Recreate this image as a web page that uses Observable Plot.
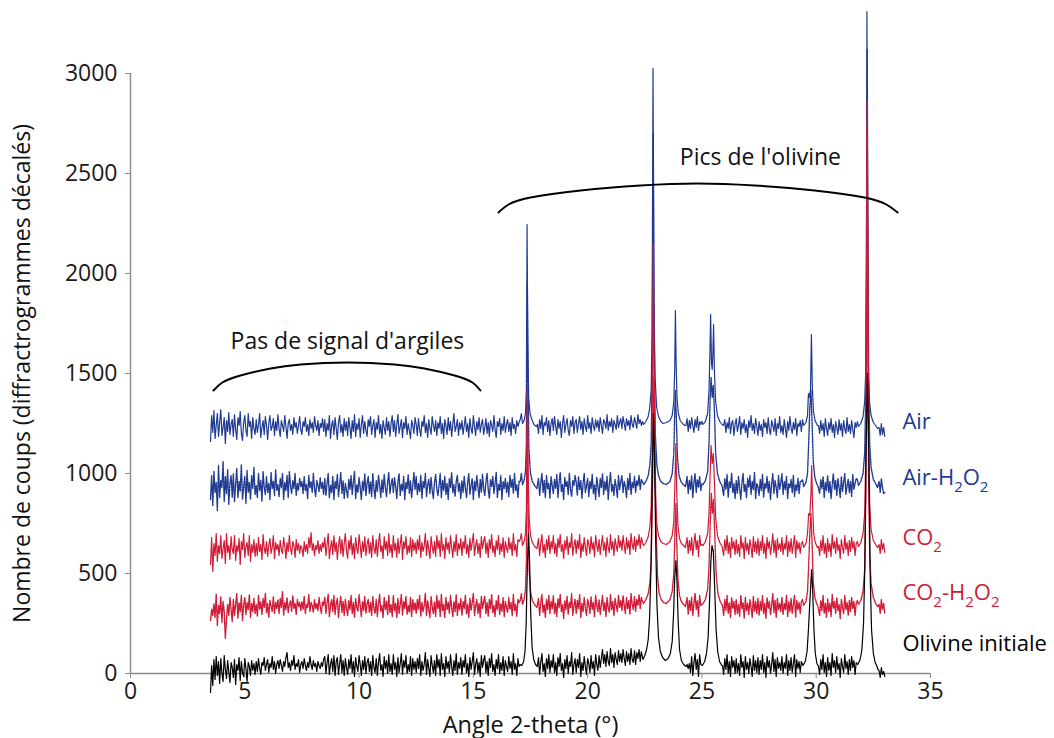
<!DOCTYPE html>
<html><head><meta charset="utf-8">
<script src="https://cdn.jsdelivr.net/npm/d3@7"></script>
<script src="https://cdn.jsdelivr.net/npm/@observablehq/plot@0.6"></script>
<style>
body{margin:0;background:#fff;}
#chart svg{display:block;}
g[aria-label="y-axis tick label"], g[aria-label="x-axis tick label"]{fill:#1a1a1a;}
</style></head><body><div id="chart"></div>
<script>
// ---- noisy scans: value at x = 3.5 + 0.05*i (one row = 1 degree) ----
const gridStart = 3.5, gridStep = 0.05;
const xTicks = [0,5,10,15,20,25,30,35];
const yTicks = [0,500,1000,1500,2000,2500,3000];
const seriesNames = ["Air","Air-H_2O_2","CO_2","CO_2-H_2O_2","Olivine initiale"];
const seriesColors = ["#203a92","#203a92","#d11a36","#d11a36","#000000"];
const seriesDashed = [false,true,false,true,false];
const labelY = [1260,980,680,405,150];

const airScan = [
1160,1290,1205,1315,1175,1240,1300,1185,1255,1320,1190,1230,1280,1150,1265,1210,1305,1195,1245,1270,
1185,1295,1220,1170,1280,1240,1310,1200,1165,1255,1290,1215,1185,1300,1235,1260,1175,1280,1225,1195,
1270,1205,1245,1300,1180,1230,1265,1195,1285,1240,1170,1250,1290,1215,1235,1275,1190,1260,1215,1295,
1225,1185,1265,1240,1210,1290,1235,1175,1250,1270,1215,1245,1195,1280,1230,1255,1200,1240,1285,1220,
1195,1260,1235,1280,1210,1245,1190,1270,1225,1255,1205,1285,1240,1215,1265,1190,1250,1230,1275,1210,
1270,1185,1250,1215,1290,1175,1240,1265,1195,1280,1225,1170,1255,1290,1205,1245,1185,1275,1215,1260,
1190,1280,1230,1175,1265,1210,1295,1185,1250,1220,1275,1180,1245,1290,1200,1260,1215,1185,1270,1235,
1285,1195,1240,1270,1180,1255,1220,1290,1200,1245,1175,1265,1230,1195,1280,1215,1260,1185,1250,1290,
1210,1265,1185,1245,1295,1200,1235,1270,1180,1255,1225,1285,1195,1250,1215,1175,1265,1240,1200,1280,
1245,1190,1275,1220,1185,1260,1235,1290,1205,1250,1180,1270,1225,1195,1285,1240,1210,1265,1190,1255,
1225,1285,1200,1250,1175,1270,1240,1195,1280,1215,1260,1185,1245,1300,1210,1235,1270,1190,1255,1220,
1265,1195,1240,1285,1210,1250,1180,1275,1225,1200,1290,1235,1190,1260,1220,1280,1205,1245,1270,1195,
1230,1275,1200,1255,1185,1265,1240,1210,1290,1220,1180,1260,1235,1275,1195,1250,1215,1285,1205,1245,
1270,1210,1255,1190,1280,1225,1245,1200,1265,1235,1255,1270,1300,1400,1600,2000,2200,1800,1500,1350,
1300,1280,1260,1250,1240,1235,1245,1200,1270,1225,1290,1195,1255,1240,1280,1210,1265,1190,1250,1275,
1215,1285,1235,1195,1270,1225,1260,1180,1250,1290,1205,1245,1275,1215,1190,1265,1235,1285,1200,1255,
1270,1205,1250,1285,1220,1260,1195,1275,1235,1210,1290,1225,1255,1200,1280,1240,1215,1270,1230,1265,
1210,1280,1240,1200,1270,1255,1225,1295,1215,1260,1235,1275,1205,1265,1245,1220,1290,1230,1255,1275,
1225,1285,1250,1215,1275,1240,1265,1220,1290,1245,1230,1280,1255,1225,1295,1250,1270,1240,1260,1270,
1280,1290,1300,1320,1350,1400,1500,1700,2500,1900,1500,1400,1330,1300,1280,1270,1260,1255,1250,1250,
1255,1260,1265,1275,1290,1320,1400,1600,1800,1500,1350,1300,1280,1265,1250,1245,1240,1275,1210,1265,
1225,1280,1240,1205,1270,1230,1285,1215,1260,1245,1260,1270,1290,1320,1400,1600,1780,1600,1550,1700,
1600,1450,1350,1300,1280,1265,1255,1250,1245,1240,1270,1205,1255,1225,1280,1200,1250,1265,1190,1245,
1275,1210,1240,1285,1195,1255,1225,1270,1205,1245,1180,1265,1230,1290,1215,1250,1200,1275,1235,1190,
1260,1215,1245,1185,1270,1230,1255,1200,1280,1220,1195,1265,1240,1210,1275,1190,1250,1225,1285,1205,
1240,1195,1270,1225,1180,1260,1215,1285,1230,1200,1255,1220,1275,1190,1250,1235,1265,1210,1270,1280,
1290,1300,1350,1380,1400,1500,1690,1450,1350,1300,1270,1255,1240,1200,1265,1215,1250,1185,1275,1225,
1190,1255,1220,1275,1205,1245,1180,1260,1230,1195,1270,1215,1250,1185,1265,1225,1200,1280,1210,1245,
1200,1265,1220,1180,1255,1230,1260,1270,1290,1320,1360,1400,1500,1800,2500,1600,1400,1320,1290,1270,
1255,1250,1245,1240,1235,1230,1190,1250,1195,1230,1185];

const airH2O2Scan = [
870,990,840,1010,905,955,815,1040,880,965,930,1060,860,985,900,1020,845,950,990,880,
1000,860,945,1025,880,960,910,1045,870,935,985,850,1015,905,955,870,990,925,1030,895,
940,880,1000,915,965,860,1010,930,895,985,905,950,870,1005,925,960,890,1020,915,945,
885,975,930,1000,870,955,915,990,880,1010,940,900,965,925,1000,890,950,915,975,935,
960,900,985,915,945,875,990,930,960,905,1000,925,885,965,940,910,980,925,955,895,
975,890,950,1000,880,940,905,985,870,960,925,995,885,945,1005,900,965,875,950,915,
880,970,920,990,895,955,1010,875,945,905,980,930,870,960,915,1000,890,950,985,900,
960,885,1000,925,875,965,910,990,940,880,970,905,995,930,885,955,1005,900,945,975,
905,980,935,875,960,1000,890,945,915,985,870,955,925,995,900,965,880,940,1005,920,
985,895,950,910,990,875,960,930,1000,885,945,970,900,980,915,875,955,995,925,890,
940,1000,880,965,915,985,895,950,870,975,930,1005,905,945,885,960,990,910,950,875,
965,905,985,925,880,955,1000,895,940,975,870,960,915,990,935,880,970,905,995,925,
890,960,1000,920,875,970,935,985,900,950,1005,880,945,915,990,870,960,925,975,905,
955,885,990,930,970,900,1000,915,945,880,960,960,1000,1100,1300,1700,1800,1400,1150,1050,
1000,980,960,950,940,935,930,975,890,955,1000,905,965,880,990,925,950,875,985,940,
900,970,925,995,880,955,1005,910,945,870,980,935,960,895,1000,920,885,965,940,990,
955,890,985,920,965,875,950,1000,905,940,975,885,960,925,995,900,945,870,980,935,
885,975,930,1000,895,960,915,985,870,950,1005,910,945,890,970,935,880,990,920,960,
990,905,960,935,880,975,920,1000,895,955,930,985,905,965,940,990,920,970,960,970,
980,990,1010,1040,1080,1150,1300,1600,2400,1700,1300,1150,1050,1010,990,975,960,955,950,945,
950,960,970,990,1020,1080,1200,1350,1400,1300,1100,1020,990,970,955,945,940,985,900,965,
920,990,880,955,1000,905,970,930,985,915,950,965,990,1050,1200,1400,1450,1400,1420,1350,
1300,1150,1050,1000,980,965,955,945,940,890,975,920,995,880,960,930,1000,905,950,875,
965,900,985,925,870,955,1000,910,945,880,975,930,990,895,960,920,1005,875,950,935,
890,970,915,995,880,950,925,985,905,960,870,945,1000,900,965,930,880,990,920,955,
1000,895,960,920,985,875,950,930,970,905,990,885,945,915,975,900,960,960,970,980,
1000,1050,1150,1300,1400,1350,1200,1100,1040,990,965,950,940,900,970,925,985,880,955,915,
990,905,960,875,945,1000,920,965,890,975,930,880,985,910,955,1000,895,940,970,905,
960,885,995,920,950,975,970,985,1010,1050,1100,1200,1500,2200,2800,2000,1400,1150,1050,1000,
980,965,955,950,945,960,905,975,930,900,905];

const co2Scan = [
545,680,510,650,590,700,560,640,600,690,575,625,665,550,700,605,640,570,685,620,
600,690,565,640,610,675,545,660,620,700,580,635,655,590,690,560,645,605,670,585,
650,590,680,610,645,570,695,625,600,660,585,640,675,600,630,690,575,655,620,645,
590,665,620,600,680,635,575,655,610,690,625,595,660,640,580,670,615,650,600,640,
625,585,660,610,645,600,680,630,705,615,650,590,640,620,665,600,645,610,655,630,
680,590,645,700,575,630,665,595,690,610,655,570,640,685,600,670,585,650,700,615,
575,665,620,690,595,650,575,680,625,600,695,640,580,660,610,685,590,645,675,600,
655,580,690,625,600,670,585,650,700,610,640,575,685,620,660,590,700,605,645,580,
690,615,650,580,675,600,645,695,570,660,625,685,595,640,605,680,585,670,615,655,
600,670,620,690,580,655,610,640,700,590,665,620,575,685,635,600,660,585,690,625,
665,585,700,615,645,575,680,620,655,600,690,630,580,660,610,695,590,650,620,675,
590,660,625,690,600,645,580,675,615,655,700,590,640,670,600,650,580,685,625,660,
685,600,655,580,670,625,695,605,640,585,665,620,690,595,650,610,680,580,660,630,
605,680,620,655,590,700,615,645,585,670,660,670,700,750,850,1100,1400,1000,800,700,
680,660,650,640,630,625,620,675,590,655,695,605,645,580,670,620,690,600,660,625,
690,600,650,585,675,630,695,610,645,575,665,620,685,595,655,630,700,590,640,670,
600,665,625,695,580,650,610,680,630,590,670,645,600,685,620,655,585,690,640,610,
670,595,645,690,615,655,585,680,630,605,695,620,660,590,675,640,610,690,630,665,
615,690,640,600,680,625,665,595,700,645,620,685,610,670,640,695,625,680,655,665,
680,700,720,750,800,900,1100,1500,2100,1400,950,800,730,700,680,665,660,655,650,650,
655,660,670,690,720,780,900,1050,1150,950,780,700,670,655,645,640,635,680,600,665,
615,680,590,650,700,620,665,585,690,640,645,665,700,780,900,1050,1130,1080,1090,1000,
900,780,710,680,660,650,640,635,630,590,670,615,690,600,655,580,680,625,660,595,
670,600,645,585,690,625,655,575,680,615,650,595,670,630,580,685,610,660,600,675,
590,660,615,690,600,650,575,680,625,660,595,640,700,605,665,580,675,620,650,610,
680,595,650,620,690,585,660,610,675,600,645,690,580,665,620,655,600,650,660,670,
690,720,780,800,790,900,1030,850,720,680,660,645,635,590,665,615,690,600,650,580,
675,610,650,585,695,625,660,600,680,615,645,575,670,630,600,690,620,655,590,665,
610,680,625,660,590,650,660,680,710,760,850,1100,1600,2400,2700,1900,1200,850,720,680,
665,650,645,640,635,645,600,670,620,650,605];

const co2H2O2Scan = [
265,320,290,350,280,395,240,340,300,385,255,360,310,175,270,345,290,380,320,260,
370,290,345,400,275,355,310,390,265,340,380,295,355,320,395,280,350,310,375,300,
345,285,390,320,360,295,375,330,400,305,350,280,365,335,310,385,300,355,325,370,
300,375,330,410,290,355,320,380,305,345,365,310,390,325,350,295,370,335,355,315,
360,320,385,300,345,330,395,310,355,340,305,370,325,350,315,380,335,300,360,340,
380,300,355,395,285,340,370,310,390,295,350,375,280,345,385,305,360,290,370,325,
290,365,320,390,300,355,280,375,330,310,395,340,285,360,315,385,300,350,370,305,
355,290,385,325,300,370,285,350,395,310,340,280,380,320,360,295,390,305,345,285,
390,315,350,280,375,300,345,395,290,360,325,385,295,340,305,380,285,370,315,355,
300,370,320,390,285,355,310,340,400,290,365,320,280,385,335,300,360,285,390,325,
365,285,395,315,345,280,380,320,355,300,390,330,285,360,310,395,290,350,320,375,
290,360,325,390,300,345,280,375,315,355,400,290,340,370,300,350,280,385,325,360,
385,300,355,285,370,325,395,305,340,285,365,320,390,295,350,310,380,285,360,330,
305,380,320,355,290,395,315,345,285,370,355,365,400,480,650,950,1150,750,500,420,
390,370,355,345,340,335,330,375,290,355,395,305,345,280,370,320,390,300,360,325,
390,300,350,285,375,330,395,310,345,275,365,320,385,295,355,330,400,290,340,370,
300,365,325,395,280,350,310,380,330,290,370,345,300,385,320,355,285,390,340,310,
370,295,345,390,315,355,285,380,330,305,395,320,360,290,375,340,310,390,330,365,
315,390,340,300,380,325,365,295,400,345,320,385,310,370,340,395,325,380,360,370,
380,395,410,440,500,600,800,1200,1450,1200,900,650,480,420,395,380,365,360,355,350,
355,365,380,400,440,520,650,800,850,700,500,420,390,370,355,345,340,380,295,365,
315,380,290,350,400,320,365,285,390,340,345,360,390,450,550,750,890,820,860,760,
650,500,430,395,375,360,350,345,340,290,370,315,390,300,355,280,380,325,360,295,
370,300,345,285,390,325,355,275,380,315,350,295,370,330,280,385,310,360,300,375,
290,360,315,390,300,350,275,380,325,360,295,340,400,305,365,280,375,320,350,310,
380,295,350,320,390,285,360,310,375,300,345,390,280,365,320,355,300,360,370,380,
400,430,480,560,680,790,700,520,420,380,360,345,340,290,365,315,390,300,350,280,
375,310,350,285,395,325,360,300,380,315,345,275,370,330,300,390,320,355,290,365,
310,380,325,360,290,350,365,380,410,460,560,800,1400,2400,2800,1800,1000,600,450,400,
380,360,350,345,340,345,300,370,320,350,300];

const olivineScan = [
-95,40,-60,70,-30,85,-10,60,-50,75,0,-40,90,20,-25,65,10,-45,55,30,
-20,70,-55,45,15,80,-35,60,5,-15,75,25,-40,55,35,-10,65,15,50,-5,
60,10,75,25,-5,55,40,80,15,45,70,5,50,30,85,20,60,0,45,65,
25,70,40,10,60,35,80,105,30,55,15,65,40,90,20,50,35,70,5,45,
60,25,75,40,15,55,30,85,45,20,65,35,50,10,60,40,25,55,35,70,
85,0,55,95,-5,45,75,10,90,-10,60,80,-5,50,95,5,65,-10,75,30,
-5,70,25,95,5,60,-15,80,35,10,90,45,-10,65,20,85,0,55,75,10,
60,-10,90,30,5,75,-10,55,100,15,45,-15,85,25,65,0,95,10,50,-5,
95,20,55,-15,80,5,50,100,-5,65,30,90,0,45,10,85,-10,75,20,60,
5,75,25,95,-10,60,15,45,105,-5,70,25,-15,90,40,5,65,-10,95,30,
70,-10,100,20,50,-15,85,25,60,5,95,35,-10,65,15,100,-5,55,25,80,
-5,65,30,95,5,50,-15,80,20,60,105,-5,45,75,5,55,-15,90,30,65,
90,5,60,-10,75,30,100,10,45,-10,70,25,95,0,55,15,85,-10,65,35,
10,85,25,60,-5,100,20,50,-10,75,35,45,60,100,250,500,680,600,350,150,
90,60,45,40,35,35,35,80,-5,60,100,10,50,-15,75,25,95,5,65,30,
95,5,55,-10,80,35,100,15,50,-20,70,25,90,0,60,35,105,-5,45,75,
5,70,30,100,-15,55,15,85,35,-5,75,50,5,90,25,60,-10,95,45,15,
90,30,75,120,50,95,35,110,60,40,125,55,95,30,105,70,45,115,60,100,
55,120,75,40,110,60,100,45,125,70,55,115,45,105,75,120,60,110,85,95,
90,110,130,170,250,500,900,1250,1200,700,350,180,110,85,70,65,70,65,70,75,
75,100,110,140,160,280,450,560,480,280,150,90,65,50,45,40,35,45,25,50,
5,85,-10,55,100,20,70,-15,95,45,40,60,100,180,350,560,640,600,420,220,
150,100,70,55,45,40,40,40,40,-5,75,20,95,0,60,-15,85,30,65,0,
75,5,50,-10,95,30,60,-20,85,20,55,0,75,35,-15,90,15,65,5,80,
-5,65,20,95,5,55,-20,85,30,65,0,45,105,10,70,-15,80,25,55,15,
85,0,55,25,95,-10,65,15,80,5,50,95,-15,70,25,60,5,60,40,60,
80,110,150,220,330,420,520,400,220,100,50,40,35,-5,70,20,95,5,55,-15,
80,15,55,-10,100,30,65,5,85,20,50,-20,75,35,5,95,25,60,-5,70,
15,85,30,65,-5,55,45,70,120,250,550,1100,1500,1100,500,220,100,55,35,30,
40,35,30,25,20,15,-20,30,-5,10,-15];

// ---- peak regions: [2-theta, counts] ----
const airPeaks = [
 [[17.15,1250],[17.22,1265],[17.28,1300],[17.32,1420],[17.35,2245],[17.38,1650],[17.42,1380],[17.48,1300],[17.56,1270],[17.65,1245],[17.75,1235]],
 [[22.45,1245],[22.55,1260],[22.65,1285],[22.72,1330],[22.78,1420],[22.82,1700],[22.86,3025],[22.9,1900],[22.95,1480],[23.02,1330],[23.1,1285],[23.2,1260],[23.3,1250],[23.45,1255],[23.6,1265],[23.7,1290],[23.77,1360],[23.81,1520],[23.84,1815],[23.87,1560],[23.91,1380],[23.97,1300],[24.05,1265],[24.15,1250],[24.25,1240]],
 [[25.05,1245],[25.15,1260],[25.25,1300],[25.31,1420],[25.35,1600],[25.38,1795],[25.42,1550],[25.45,1520],[25.48,1600],[25.51,1745],[25.55,1500],[25.6,1360],[25.68,1290],[25.78,1260],[25.88,1245]],
 [[29.45,1240],[29.55,1255],[29.62,1290],[29.66,1400],[29.7,1380],[29.75,1420],[29.79,1695],[29.83,1430],[29.88,1310],[29.95,1265],[30.05,1240]],
 [[31.85,1235],[31.95,1250],[32.05,1285],[32.12,1360],[32.17,1520],[32.2,2100],[32.22,3310],[32.25,2200],[32.28,1550],[32.33,1360],[32.4,1290],[32.5,1255],[32.6,1240],[32.68,1225]]
];
const airH2O2Peaks = [
 [[17.15,945],[17.22,965],[17.28,1010],[17.32,1150],[17.36,1950],[17.39,1500],[17.43,1120],[17.5,1000],[17.58,960],[17.68,940],[17.78,925]],
 [[22.45,945],[22.55,960],[22.65,990],[22.72,1040],[22.78,1150],[22.82,1500],[22.87,2700],[22.91,1700],[22.96,1200],[23.03,1040],[23.1,990],[23.2,960],[23.3,950],[23.45,945],[23.6,960],[23.7,1000],[23.77,1100],[23.81,1300],[23.84,1415],[23.88,1280],[23.93,1080],[24.0,990],[24.08,960],[24.18,945],[24.28,935]],
 [[25.05,945],[25.15,965],[25.25,1010],[25.31,1150],[25.36,1380],[25.4,1480],[25.45,1380],[25.5,1440],[25.55,1300],[25.6,1100],[25.68,1000],[25.78,960],[25.88,940]],
 [[29.45,935],[29.55,955],[29.62,1000],[29.67,1150],[29.72,1330],[29.77,1415],[29.82,1250],[29.87,1060],[29.94,980],[30.02,950],[30.08,935]],
 [[31.85,940],[31.95,960],[32.05,1000],[32.12,1100],[32.17,1400],[32.2,2200],[32.23,3120],[32.26,2300],[32.29,1500],[32.34,1150],[32.4,1030],[32.5,970],[32.6,950],[32.68,930]]
];
const co2Peaks = [
 [[17.15,640],[17.22,660],[17.28,700],[17.32,820],[17.36,1425],[17.4,1000],[17.44,780],[17.5,690],[17.58,655],[17.68,635],[17.78,625]],
 [[22.45,640],[22.55,655],[22.65,685],[22.72,730],[22.78,830],[22.82,1100],[22.87,2150],[22.91,1400],[22.96,900],[23.03,740],[23.1,690],[23.2,660],[23.3,650],[23.45,645],[23.6,660],[23.7,690],[23.77,760],[23.82,950],[23.86,1150],[23.9,900],[23.95,740],[24.02,675],[24.1,650],[24.2,640],[24.28,630]],
 [[25.05,640],[25.15,660],[25.25,700],[25.31,800],[25.36,1000],[25.4,1140],[25.45,1050],[25.5,1100],[25.55,950],[25.6,780],[25.68,690],[25.78,655],[25.88,635]],
 [[29.45,630],[29.55,650],[29.62,700],[29.67,800],[29.72,790],[29.77,900],[29.8,1040],[29.84,850],[29.89,700],[29.96,655],[30.05,630]],
 [[31.85,635],[31.95,655],[32.05,700],[32.12,800],[32.17,1100],[32.2,1800],[32.23,2755],[32.26,1900],[32.29,1200],[32.34,850],[32.4,720],[32.5,665],[32.6,645],[32.68,630]]
];
const co2H2O2Peaks = [
 [[17.15,345],[17.22,370],[17.28,420],[17.32,560],[17.36,1250],[17.4,800],[17.44,520],[17.5,410],[17.58,365],[17.68,345],[17.78,330]],
 [[22.45,350],[22.55,370],[22.65,400],[22.72,450],[22.78,560],[22.83,850],[22.9,1480],[22.95,1100],[23.0,700],[23.06,480],[23.13,400],[23.22,370],[23.32,355],[23.45,350],[23.6,370],[23.7,410],[23.77,500],[23.82,700],[23.86,850],[23.9,650],[23.95,470],[24.02,390],[24.1,360],[24.2,345],[24.28,335]],
 [[25.05,350],[25.15,370],[25.25,420],[25.31,530],[25.36,750],[25.41,900],[25.46,800],[25.51,870],[25.56,700],[25.62,500],[25.7,400],[25.8,360],[25.9,340]],
 [[29.45,340],[29.55,360],[29.62,410],[29.67,540],[29.72,700],[29.77,800],[29.82,650],[29.87,460],[29.94,380],[30.02,350],[30.08,335]],
 [[31.85,345],[31.95,365],[32.05,410],[32.12,520],[32.17,900],[32.2,1700],[32.23,2865],[32.26,1800],[32.29,1000],[32.34,600],[32.4,450],[32.5,380],[32.6,350],[32.68,335]]
];
const olivinePeaks = [
 [[17.12,40],[17.2,60],[17.26,110],[17.31,250],[17.36,520],[17.41,700],[17.46,560],[17.51,300],[17.57,130],[17.64,70],[17.72,45],[17.8,35]],
 [[22.42,70],[22.5,90],[22.58,120],[22.65,170],[22.71,280],[22.77,520],[22.83,1000],[22.88,1300],[22.93,1050],[22.98,650],[23.03,350],[23.1,180],[23.18,110],[23.28,80],[23.4,65],[23.52,75],[23.62,100],[23.7,160],[23.76,300],[23.81,480],[23.86,565],[23.91,460],[23.96,260],[24.02,120],[24.1,65],[24.2,45],[24.3,35]],
 [[25.02,40],[25.12,60],[25.2,100],[25.27,180],[25.33,350],[25.39,560],[25.44,640],[25.5,610],[25.56,420],[25.62,220],[25.69,110],[25.77,60],[25.87,40]],
 [[29.42,40],[29.52,60],[29.6,110],[29.66,220],[29.71,330],[29.75,420],[29.8,520],[29.85,400],[29.9,220],[29.96,100],[30.03,50],[30.1,35]],
 [[31.82,45],[31.92,70],[32.0,120],[32.07,250],[32.13,550],[32.18,1100],[32.24,1500],[32.3,1100],[32.36,500],[32.42,220],[32.5,100],[32.58,55],[32.66,35]]
];

// ---- annotation brackets & texts ----
const bracket1X = [3.63,4.02,4.81,6.13,7.44,9.49,11.55,12.86,14.18,14.96,15.31];
const bracket1Y = [1415,1455,1490,1525,1545,1555,1545,1525,1490,1455,1415];
const bracket2X = [16.10,16.54,17.50,19.69,22.31,24.81,27.30,29.93,32.11,33.07,33.56];
const bracket2Y = [2305,2345,2380,2415,2440,2450,2440,2415,2380,2345,2305];
const noteText = ["Pas de signal d'argiles","Pics de l'olivine"];
const noteX = [9.49,27.56];
const noteY = [1660,2580];

function buildSeries(name, scan, peaks){
  const windows = peaks.map(c => [c[0][0]-0.026, c[c.length-1][0]+0.026]);
  const keep = x => !windows.some(([a,b]) => x >= a && x <= b);
  const pts = [];
  scan.forEach((v,i) => {
    const x = +(gridStart + i*gridStep).toFixed(2);
    if (keep(x)) pts.push({series:name, x, y:v});
  });
  peaks.forEach(c => c.forEach(([x,y]) => pts.push({series:name, x, y})));
  pts.sort((a,b) => a.x - b.x);
  return pts;
}
const allScans = [airScan, airH2O2Scan, co2Scan, co2H2O2Scan, olivineScan];
const allPeaks = [airPeaks, airH2O2Peaks, co2Peaks, co2H2O2Peaks, olivinePeaks];
const seriesData = seriesNames.map((n,i) => buildSeries(n, allScans[i], allPeaks[i]));
const labels = seriesNames.map((n,i) => ({name:n, y:labelY[i], color:seriesColors[i]}));
const b1 = bracket1X.map((x,i) => ({x, y:bracket1Y[i]}));
const b2 = bracket2X.map((x,i) => ({x, y:bracket2Y[i]}));
const notes = noteText.map((t,i) => ({t, x:noteX[i], y:noteY[i]}));

const FONT = "'Open Sans', sans-serif";
const lineMarks = seriesData.map((d,i) => Plot.line(d, {
  x:"x", y:"y", stroke: seriesColors[i], strokeWidth: seriesDashed[i] ? 1.4 : 1.2,
  strokeDasharray: seriesDashed[i] ? "1.6,1.1" : null, curve:"linear"
}));

const chart = Plot.plot({
  width:1054, height:738,
  marginLeft:130, marginRight:124, marginTop:73, marginBottom:65,
  style:{fontFamily:FONT, fontSize:"23px", background:"#fff", overflow:"visible"},
  x:{domain:[0,35]},
  y:{domain:[0,3000]},
  marks:[
    Plot.ruleX([0], {y1:0, y2:3000, stroke:"#8c8c8c", strokeWidth:1.5}),
    Plot.ruleY([0], {x1:0, x2:35, stroke:"#8c8c8c", strokeWidth:1.5}),
    Plot.axisY({ticks:yTicks, tickSize:5, tickPadding:8, fontSize:23, color:"#8c8c8c", label:null, tickFormat:d=>String(d)}),
    Plot.axisX({ticks:xTicks, tickSize:5, tickPadding:4, fontSize:23, color:"#8c8c8c", label:null, tickFormat:d=>String(d)}),
    ...lineMarks,
    Plot.text(labels, {x:()=>33.77, y:"y", text:"name", fill:"color", textAnchor:"start", fontSize:22, lineAnchor:"middle"}),
    Plot.line(b1, {x:"x", y:"y", curve:"natural", stroke:"#000", strokeWidth:2}),
    Plot.line(b2, {x:"x", y:"y", curve:"natural", stroke:"#000", strokeWidth:2}),
    Plot.text(notes, {x:"x", y:"y", text:"t", fontSize:23, fill:"#111", lineAnchor:"middle"}),
    Plot.text(["Nombre de coups (diffractrogrammes décalés)"], {frameAnchor:"left", dx:-108, rotate:-90, textAnchor:"middle", fontSize:23, fill:"#111", lineAnchor:"middle"}),
    Plot.text(["Angle 2-theta (°)"], {frameAnchor:"bottom", textAnchor:"middle", dy:52, fontSize:23.5, fill:"#111", lineAnchor:"middle"})
  ]
});

// subscripts: "_2" -> lowered small 2
chart.querySelectorAll("text").forEach(t => {
  const s = t.textContent;
  if (!s.includes("_")) return;
  t.textContent = "";
  let lowered = false;
  s.split(/(_\d)/).forEach(p => {
    if (!p) return;
    const ts = document.createElementNS("http://www.w3.org/2000/svg","tspan");
    if (p.startsWith("_")) {
      ts.textContent = p.slice(1);
      ts.setAttribute("font-size","15");
      ts.setAttribute("dy", lowered ? "0" : "7");
      lowered = true;
    } else {
      ts.textContent = p;
      if (lowered) { ts.setAttribute("dy","-7"); lowered = false; }
    }
    t.appendChild(ts);
  });
});
document.getElementById("chart").appendChild(chart);
</script></body></html>
